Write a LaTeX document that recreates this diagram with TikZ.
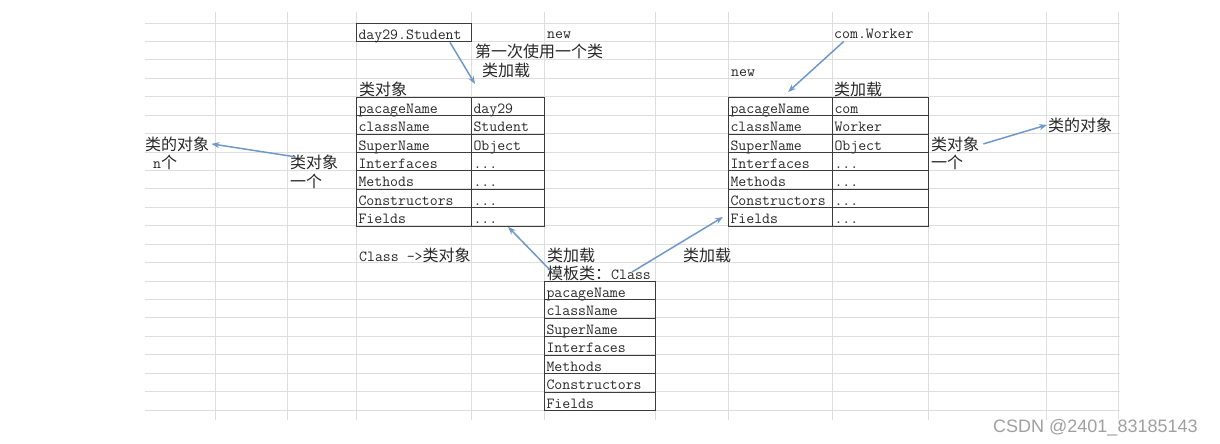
\documentclass[tikz,border=0pt]{standalone}
\usepackage{fontspec}
\usetikzlibrary{arrows.meta,calc}
\newfontfamily\cjk{Noto Sans CJK SC}
\newfontfamily\wmfont{Liberation Sans}
\definecolor{gridc}{RGB}{222,222,222}
\definecolor{tabc}{RGB}{60,60,60}
\definecolor{arrc}{RGB}{112,152,200}
\definecolor{txtc}{RGB}{40,40,40}
\definecolor{wmc}{RGB}{160,160,160}
\tikzset{
  gridline/.style={draw=gridc, line width=0.9pt},
  cell/.style={draw=tabc, line width=1pt, minimum height=18.43pt, inner xsep=2pt, inner ysep=0pt,
    anchor=north west, font=\fontsize{15.4}{15.4}\selectfont\ttfamily, text height=13.6pt, text depth=0pt,
    align=left, text=txtc},
  lbl/.style={anchor=base west, inner sep=0pt, text=txtc},
  cjkl/.style={lbl, font=\fontsize{16}{16}\selectfont\cjk},
  monol/.style={lbl, font=\fontsize{15.4}{15.4}\selectfont\ttfamily},
  arr/.style={draw=arrc, line width=1.5pt, -{Stealth[length=8pt,width=6pt]}},
}
\newcommand{\mt}[1]{{\fontsize{15.4}{15.4}\selectfont\ttfamily #1}}
\newcommand{\dotsv}{...}
\begin{document}
\begin{tikzpicture}[x=1pt,y=-1pt]
\useasboundingbox (0,0) rectangle (1220,444);
\fill[white] (0,0) rectangle (1220,444);
% spreadsheet grid
\foreach \k in {0,...,21} \draw[gridline] (145,{23+18.43*\k}) -- (1120,{23+18.43*\k});
\foreach \x in {215,287,356,471,544,655,728,832,928,1046,1118} \draw[gridline] (\x,12) -- (\x,420);

% Student class object
\node[cell, text width=111pt] (s0) at (356,23) {day29.Student};
\foreach \a/\b [count=\i] in {pacageName/day29,className/Student,SuperName/Object,Interfaces/\dotsv,Methods/\dotsv,Constructors/\dotsv,Fields/\dotsv}{
  \node[cell, text width=111pt] (sA\i) at (356,{23+18.43*(3+\i)}) {\a};
  \node[cell, text width=69pt] (sB\i) at (471,{23+18.43*(3+\i)}) {\b};
}
% Worker class object
\foreach \a/\b [count=\i] in {pacageName/com,className/Worker,SuperName/Object,Interfaces/\dotsv,Methods/\dotsv,Constructors/\dotsv,Fields/\dotsv}{
  \node[cell, text width=100pt] (wA\i) at (728,{23+18.43*(3+\i)}) {\a};
  \node[cell, text width=92pt] (wB\i) at (832,{23+18.43*(3+\i)}) {\b};
}
% Template class
\foreach \a [count=\i] in {pacageName,className,SuperName,Interfaces,Methods,Constructors,Fields}{
  \node[cell, text width=107pt] (cA\i) at (544,{23+18.43*(13+\i)}) {\a};
}

% labels
\node[monol] (newS) at (547,39) {new};
\node[cjkl] (firstUse) at (475,58) {第一次使用一个类};
\node[cjkl] (loadS) at (482,76) {类加载};
\node[cjkl] (objS) at (359,95) {类对象};
\node[monol] (cw) at (834,39) {com.Worker};
\node[monol] (newW) at (731,76) {new};
\node[cjkl] (loadW) at (834,95) {类加载};
\node[cjkl] (instL) at (145,150) {类的对象};
\node[lbl] (nL) at (153,168) {\mt{n}{\fontsize{16}{16}\selectfont\cjk 个}};
\node[cjkl] (oneL1) at (290,168.5) {类对象};
\node[cjkl] (oneL2) at (290,187) {一个};
\node[cjkl] (oneR1) at (931,150) {类对象};
\node[cjkl] (oneR2) at (931,168) {一个};
\node[cjkl] (instR) at (1048,131) {类的对象};
\node[lbl] (clsObj) at (359,261) {\mt{Class ->}{\fontsize{16}{16}\selectfont\cjk 类对象}};
\node[cjkl] (loadC) at (547,261) {类加载};
\node[cjkl] (loadC2) at (683,261) {类加载};
\node[lbl] (tpl) at (547,279.5) {{\fontsize{16}{16}\selectfont\cjk 模板类：}\mt{Class}};
\node[anchor=base west, inner sep=0pt, text=wmc, font=\fontsize{18}{18}\selectfont\wmfont] (wm) at (993,432) {CSDN @2401\_83185143};

% connectors
\coordinate (t1) at (475,84);
\coordinate (t2) at (788,92);
\coordinate (c1) at (550,270);
\coordinate (c2) at (632,272);
\draw[arr] ([xshift=-22pt]s0.south east) -- (t1);
\draw[arr] ([xshift=-30pt,yshift=-2pt]cw.south) -- (t2);
\draw[arr] ([xshift=5pt,yshift=-2pt]oneL1.north west) -- ([xshift=2pt]instL.east);
\draw[arr] ([xshift=4pt]oneR1.east) -- ([xshift=-1pt]instR.west);
\draw[arr] (c1) -- (sB7.south);
\draw[arr] (c2) -- ([xshift=-5pt]wA7.west);
\end{tikzpicture}
\end{document}
